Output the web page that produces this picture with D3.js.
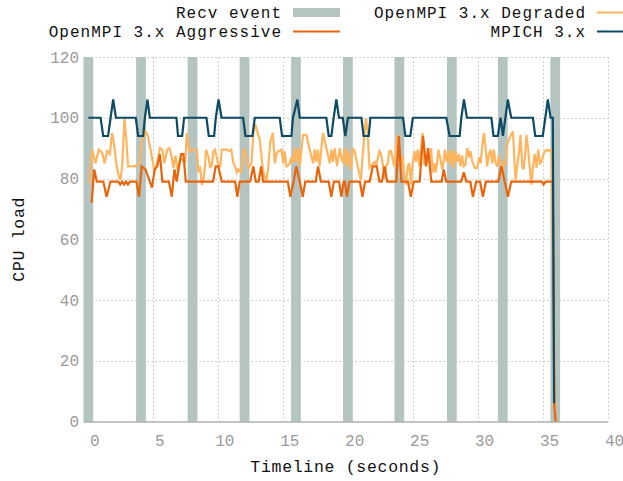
<!DOCTYPE html>
<html><head><meta charset="utf-8">
<script src="https://cdn.jsdelivr.net/npm/d3@7"></script>
<style>
html,body{margin:0;padding:0;background:#fff;}
text{font-family:"Courier New","Liberation Mono",monospace;}
</style></head>
<body><svg id="chart" width="623" height="481"></svg>
<script>
// ---- data ----
const recvEvents = [0, 4.05, 8.02, 12.02, 15.98, 19.98, 23.94, 27.98, 31.9, 35.94];
const recvWidth = 0.75;
const xTicks = [0, 5, 10, 15, 20, 25, 30, 35, 40];
const yTicks = [0, 20, 40, 60, 80, 100, 120];

const mpich = [[0,100],[0.94,100],[1.14,94],[1.52,94],[1.71,100],[1.91,106],[2.12,100],[3.65,100],[3.83,94],[4.22,94],[4.35,100],[4.55,106],[4.73,100],[6.78,100],[6.9,94],[7.22,94],[7.37,100],[9.09,100],[9.27,94],[9.68,94],[9.81,100],[10.02,106],[10.25,100],[11.91,100],[12.09,94],[12.63,94],[12.81,100],[14.73,100],[14.91,94],[15.63,94],[15.75,100],[16.09,106],[16.27,100],[18.32,100],[18.5,94],[18.71,94],[18.88,100],[19.09,106],[19.29,100],[19.58,100],[19.78,94],[19.98,100],[21.02,100],[21.19,94],[21.58,94],[21.71,100],[24.22,100],[24.4,94],[24.78,94],[24.98,100],[27.55,100],[27.81,94],[28.58,94],[28.71,100],[28.91,106],[29.14,100],[31.02,100],[31.19,94],[31.52,94],[31.73,100],[31.91,94],[32.29,106],[32.55,100],[34.22,100],[34.4,94],[34.98,94],[35.37,106],[35.58,100],[35.75,100],[35.85,6]];

const aggressive = [[0.25,72],[0.45,83],[0.65,79],[1.15,79],[1.4,74],[1.7,79],[2.3,79],[2.45,78],[2.6,79],[2.75,78],[2.9,79],[3.05,78],[3.2,79],[3.7,79],[3.9,74],[4.1,84],[4.4,83],[4.65,80],[4.9,77],[5.1,83],[5.3,84],[5.5,88],[5.7,79],[6.2,79],[6.42,74],[6.63,83],[6.8,79],[6.98,84],[7.14,88],[7.32,88],[7.5,79],[9.6,79],[9.8,84],[10.0,84],[10.27,79],[11.3,79],[11.47,74],[11.65,79],[12.45,79],[12.7,84],[12.88,79],[13.1,79],[13.3,84],[13.45,79],[15.35,79],[15.55,74],[15.8,79],[16.0,84],[16.27,79],[16.5,74],[16.7,79],[17.5,79],[17.68,84],[17.9,79],[18.5,79],[18.7,74],[18.9,79],[19.3,79],[19.48,74],[19.65,79],[19.75,79],[19.9,74],[20.1,79],[20.9,79],[21.1,74],[21.3,79],[21.65,79],[21.9,84],[22.2,84],[22.4,79],[22.6,79],[22.8,84],[23.0,79],[23.7,79],[23.9,94],[24.1,79],[24.6,79],[24.82,74],[25.05,79],[25.5,79],[25.76,94],[26.0,84],[26.15,90],[26.4,79],[27.2,79],[27.35,83],[27.55,79],[28.7,79],[28.9,82],[29.1,79],[29.4,79],[29.6,74],[29.86,79],[30.15,79],[30.37,74],[30.6,79],[31.55,79],[31.8,84],[32.05,79],[32.3,74],[32.55,79],[34.9,79],[35.04,78],[35.2,79],[35.75,79],[35.87,5],[35.97,0]];

const degraded = [[0.04,78.5],[0.3,89.5],[0.55,85],[0.8,89.5],[1.06,88.5],[1.25,85],[1.45,89],[1.65,88],[1.83,95],[1.97,91.6],[2.14,85],[2.35,80.6],[2.47,79.5],[2.6,84],[2.78,99.8],[2.92,92.7],[3.06,84],[3.63,84],[3.75,84.5],[3.95,85],[4.1,92],[4.4,95.5],[4.58,94],[4.78,89.5],[4.98,85],[5.1,82],[5.3,85],[5.5,90],[5.7,89.5],[5.85,85],[6.06,89.5],[6.25,90],[6.42,87],[6.55,83.5],[6.7,87.5],[6.9,82],[7.05,86.5],[7.2,86.5],[7.45,85],[7.58,95],[7.7,90.5],[7.83,89],[7.95,89.5],[8.2,89.5],[8.35,89.5],[8.48,82],[8.6,84],[8.73,77.9],[8.86,79.5],[8.97,84],[9.06,89.5],[9.25,87],[9.37,83.5],[9.5,84.5],[9.63,89],[9.75,89.5],[10.02,84],[10.15,84],[10.27,89.5],[10.65,89.5],[10.83,89],[11.0,89.5],[11.17,85],[11.3,84],[11.43,82],[11.55,83],[11.75,82],[11.94,89.5],[12.06,89],[12.32,83.5],[12.55,85],[12.7,95],[12.83,98],[13.2,92.7],[13.4,84],[13.58,80],[13.7,79.5],[13.83,83],[14.0,92],[14.2,95],[14.35,85],[14.5,88.5],[14.86,89.5],[15.0,85],[15.1,89],[15.25,84],[15.45,84.5],[15.63,87],[15.75,85],[15.88,90],[16.0,85.5],[16.15,90],[16.27,84],[16.52,94.4],[16.78,94.4],[17.04,89.5],[17.3,85],[17.42,89.5],[17.55,85.5],[17.67,89.5],[17.8,84],[17.93,89.5],[18.06,95],[18.32,90],[18.45,87.5],[18.58,85],[18.7,89.5],[18.83,85.5],[18.96,90],[19.15,84],[19.35,90],[19.47,87],[19.6,85],[19.73,90],[19.86,84],[19.98,89.5],[20.1,85.5],[20.2,83],[20.35,90],[20.5,89],[20.73,84],[20.98,79.5],[21.1,86.5],[21.25,95],[21.37,99.8],[21.5,95],[21.64,83.5],[21.83,84.5],[22.03,85.5],[22.17,84.5],[22.4,89],[22.53,88],[22.65,85],[22.8,80],[22.92,84],[23.04,85],[23.17,89],[23.3,89],[23.55,84],[23.8,94.4],[23.93,87],[24.06,83],[24.18,87.5],[24.3,82],[24.45,78],[24.58,84],[24.7,85],[24.83,78],[24.96,85],[25.1,89],[25.22,85.5],[25.35,89.5],[25.48,84],[25.6,89.5],[25.73,95],[25.86,84.5],[26.0,88],[26.25,85],[26.38,90],[26.5,82],[26.63,85],[26.73,82],[26.84,85],[26.94,89.5],[27.1,86.5],[27.24,83],[27.35,85.5],[27.45,89.5],[27.6,85.5],[27.75,89],[27.88,84.5],[28.0,89.5],[28.13,83.5],[28.26,89],[28.39,85.5],[28.52,88],[28.65,84],[28.77,87.5],[28.9,84],[29.03,84.5],[29.17,90],[29.3,87],[29.42,89],[29.55,85.5],[29.75,83.5],[29.95,83.5],[30.08,87],[30.2,85],[30.32,91],[30.45,95],[30.58,90],[30.7,84],[30.83,88],[30.96,89.5],[31.09,85],[31.22,89.5],[31.35,85],[31.48,84],[31.6,87.5],[31.73,85],[31.86,81],[31.99,85.5],[32.12,85],[32.25,91.6],[32.5,94],[32.68,95.5],[32.88,79.5],[33.01,84],[33.14,88.5],[33.27,94.4],[33.4,84],[33.5,83],[33.6,87],[33.73,94.4],[33.86,89],[33.98,83.5],[34.1,78],[34.23,84],[34.36,88],[34.5,83.5],[34.63,89.5],[34.76,85],[34.88,85.5],[35.0,87.5],[35.14,89],[35.4,89.5],[35.52,89],[35.65,89.5],[35.95,0]];

// ---- drawing ----
const svg = d3.select("#chart");
const plot = {left: 83.5, right: 608, top: 57, bottom: 421.5};
const x = d3.scaleLinear().domain([-0.375, 40]).range([plot.left, plot.right]);
const y = d3.scaleLinear().domain([0, 120]).range([plot.bottom, plot.top]);

const colors = {recv: "#b4c4c0", degraded: "#ffb45e", aggressive: "#e8650c", mpich: "#0d4a63"};
const tickColor = "#9a9a9a";
const FONT = '"Courier New","Liberation Mono",monospace';

// grid
const grid = svg.append("g").attr("stroke", "#c4c4c4").attr("stroke-width", 1).attr("stroke-dasharray", "1.5,2.5");
grid.selectAll("line.v").data(xTicks).join("line").attr("class", "v")
  .attr("x1", d => Math.round(x(d)) + 0.5).attr("x2", d => Math.round(x(d)) + 0.5)
  .attr("y1", plot.top).attr("y2", plot.bottom);
grid.selectAll("line.h").data(yTicks.filter(d => d > 0)).join("line").attr("class", "h")
  .attr("x1", plot.left).attr("x2", plot.right)
  .attr("y1", d => Math.round(y(d)) + 0.5).attr("y2", d => Math.round(y(d)) + 0.5);

// recv event bars
svg.append("g").selectAll("rect").data(recvEvents).join("rect")
  .attr("x", d => x(d - recvWidth / 2)).attr("width", d => x(d + recvWidth / 2) - x(d - recvWidth / 2))
  .attr("y", plot.top).attr("height", plot.bottom - plot.top)
  .attr("fill", colors.recv);

// bottom axis line
svg.append("line").attr("x1", plot.left).attr("x2", plot.right)
  .attr("y1", plot.bottom + 0.5).attr("y2", plot.bottom + 0.5)
  .attr("stroke", "#8a8a8a").attr("stroke-width", 1.2);

// axes tick labels
const xAxis = d3.axisBottom(x).tickValues(xTicks).tickSize(0).tickPadding(13);
const gx = svg.append("g").attr("transform", `translate(6,${plot.bottom})`).call(xAxis);
gx.select(".domain").remove();
gx.selectAll("text").attr("fill", tickColor).style("font-size", "16px").style("font-family", FONT);

const yAxis = d3.axisLeft(y).tickValues(yTicks).tickSize(0).tickPadding(0);
const gy = svg.append("g").attr("transform", `translate(79,0)`).call(yAxis);
gy.select(".domain").remove();
gy.selectAll("text").attr("fill", tickColor).style("font-size", "16px").style("font-family", FONT);

// lines
const line = d3.line().x(d => x(d[0])).y(d => y(d[1]));
[[degraded, colors.degraded], [aggressive, colors.aggressive], [mpich, colors.mpich]].forEach(([data, c]) => {
  svg.append("path").datum(data).attr("d", line).attr("fill", "none")
    .attr("stroke", c).attr("stroke-width", 2.2).attr("stroke-linejoin", "miter").attr("stroke-miterlimit", 3);
});

// axis titles
svg.append("text").attr("x", (plot.left + plot.right) / 2).attr("y", 472)
  .attr("text-anchor", "middle").style("font-size", "16.5px").style("letter-spacing", "0.7px").attr("fill", "#111")
  .text("Timeline (seconds)");
svg.append("text").attr("transform", `translate(24,${(plot.top + plot.bottom) / 2}) rotate(-90)`)
  .attr("text-anchor", "middle").style("font-size", "16.5px").style("letter-spacing", "0.7px").attr("fill", "#111")
  .text("CPU load");

// legend
const legendItems = [
  {label: "Recv event", type: "rect", color: colors.recv, tx: 282, ty: 12.5},
  {label: "OpenMPI 3.x Degraded", type: "line", color: colors.degraded, tx: 586, ty: 12.5},
  {label: "OpenMPI 3.x Aggressive", type: "line", color: colors.aggressive, tx: 282, ty: 31.5},
  {label: "MPICH 3.x", type: "line", color: colors.mpich, tx: 586, ty: 31.5}
];
const lg = svg.append("g");
legendItems.forEach(it => {
  lg.append("text").attr("x", it.tx).attr("y", it.ty).attr("dy", "0.35em")
    .attr("text-anchor", "end").style("font-size", "16px").style("letter-spacing", "1px")
    .attr("fill", "#111").text(it.label);
  if (it.type === "rect") {
    lg.append("rect").attr("x", it.tx + 11).attr("y", it.ty - 4.5).attr("width", 47).attr("height", 9).attr("fill", it.color);
  } else {
    lg.append("line").attr("x1", it.tx + 11).attr("x2", it.tx + 58).attr("y1", it.ty).attr("y2", it.ty)
      .attr("stroke", it.color).attr("stroke-width", 2.2);
  }
});
</script></body></html>
